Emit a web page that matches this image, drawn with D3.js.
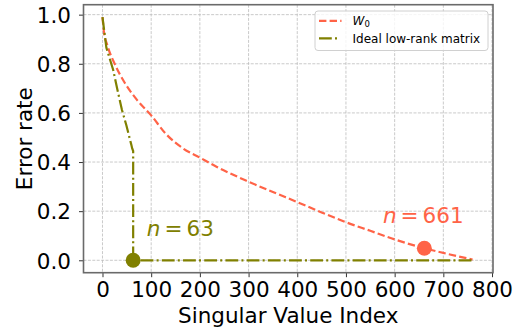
<!DOCTYPE html>
<html><head><meta charset="utf-8">
<script src="https://cdn.jsdelivr.net/npm/d3@7"></script>
<style>body{margin:0;background:#fff}svg{display:block;font-family:"DejaVu Sans",sans-serif}</style>
</head><body><svg id="c" width="517" height="331"></svg>
<script>
// data
const w0X = [0, 3, 10, 25, 45, 70, 100, 130, 165, 200, 235, 300, 350, 400, 450, 500, 550, 600, 661, 700, 760];
const w0Y = [0.99, 0.93, 0.875, 0.80, 0.725, 0.655, 0.59, 0.515, 0.456, 0.418, 0.38, 0.32, 0.278, 0.237, 0.195, 0.155, 0.12, 0.085, 0.049, 0.03, 0.003];
const idealX = [0, 8, 22, 30, 40, 49, 56, 59, 61, 63, 63, 760];
const idealY = [0.99, 0.865, 0.775, 0.70, 0.612, 0.55, 0.495, 0.472, 0.455, 0.445, 0, 0];
const xTicks = [0, 100, 200, 300, 400, 500, 600, 700, 800];
const yTicks = [0.0, 0.2, 0.4, 0.6, 0.8, 1.0];
const idealPoint = {x: 63, y: 0, label: "63"};
const w0Point = {x: 661, y: 0.049, label: "661"};
const legendLabels = ["W", "Ideal low-rank matrix"];

const svg = d3.select("#c");
const L = 83.5, R = 493, T = 4.7, B = 272.7;
const x = d3.scaleLinear().domain([-39, 802]).range([L, R]);
const y = d3.scaleLinear().domain([-0.0505, 1.0405]).range([B, T]);
const red = "#ff6347", olive = "#808000";
const FS = 21.5;

// grid
const g = svg.append("g");
xTicks.forEach(t => g.append("line").attr("x1", x(t)).attr("x2", x(t)).attr("y1", T).attr("y2", B)
  .attr("stroke", "#bdbdbd").attr("stroke-width", 0.8).attr("stroke-dasharray", "3,1.4"));
yTicks.forEach(t => g.append("line").attr("x1", L).attr("x2", R).attr("y1", y(t)).attr("y2", y(t))
  .attr("stroke", "#bdbdbd").attr("stroke-width", 0.8).attr("stroke-dasharray", "3,1.4"));

// lines
const w0 = w0X.map((v, i) => [v, w0Y[i]]);
const ideal = idealX.map((v, i) => [v, idealY[i]]);
svg.append("path").attr("d", d3.line().x(d => x(d[0])).y(d => y(d[1])).curve(d3.curveMonotoneX)(w0))
  .attr("fill", "none").attr("stroke", red).attr("stroke-width", 2.2).attr("stroke-dasharray", "7.4,3.2");
svg.append("path").attr("d", d3.line().x(d => x(d[0])).y(d => y(d[1]))(ideal))
  .attr("fill", "none").attr("stroke", olive).attr("stroke-width", 2.2).attr("stroke-dasharray", "12.8,3.2,2,3.2");

// markers
svg.append("circle").attr("cx", x(idealPoint.x)).attr("cy", y(idealPoint.y)).attr("r", 7.5).attr("fill", olive);
svg.append("circle").attr("cx", x(w0Point.x)).attr("cy", y(w0Point.y)).attr("r", 7.5).attr("fill", red);

// annotations
function ann(px, py, label, color) {
  const t = svg.append("text").attr("x", x(px)).attr("y", y(py)).attr("fill", color).attr("font-size", FS);
  t.append("tspan").attr("font-style", "italic").text("n");
  t.append("tspan").attr("dx", 4).text("=");
  t.append("tspan").attr("dx", 4).text(label);
}
ann(91, 0.099, idealPoint.label, olive);
ann(576, 0.15, w0Point.label, red);

// axes ticks
const ax = svg.append("g").attr("transform", `translate(0,${B})`)
  .call(d3.axisBottom(x).tickValues(xTicks).tickSize(4.5).tickPadding(4).tickFormat(d3.format("d")));
ax.select(".domain").remove();
ax.selectAll("text").attr("font-size", FS).attr("font-family", "DejaVu Sans").attr("fill", "#000").attr("dy", null).attr("y", 24.6);
ax.selectAll("line").attr("stroke", "#333").attr("stroke-width", 1);
const ay = svg.append("g").attr("transform", `translate(${L},0)`)
  .call(d3.axisLeft(y).tickValues(yTicks).tickSize(4.5).tickPadding(8).tickFormat(d3.format(".1f")));
ay.select(".domain").remove();
ay.selectAll("text").attr("font-size", FS).attr("font-family", "DejaVu Sans").attr("fill", "#000").attr("dy", "0.36em");
ay.selectAll("line").attr("stroke", "#333").attr("stroke-width", 1);

// spines
svg.append("rect").attr("x", L).attr("y", T).attr("width", R - L).attr("height", B - T)
  .attr("fill", "none").attr("stroke", "#6a6a6a").attr("stroke-width", 1.6);

// axis labels
svg.append("text").attr("x", (L + R) / 2).attr("y", 323.3).attr("text-anchor", "middle")
  .attr("font-size", FS).text("Singular Value Index");
svg.append("text").attr("transform", `translate(31.7,${(T + B) / 2}) rotate(-90)`).attr("text-anchor", "middle")
  .attr("font-size", FS).text("Error rate");

// legend
const lg = svg.append("g");
lg.append("rect").attr("x", 315).attr("y", 11).attr("width", 173).attr("height", 39.5).attr("rx", 3)
  .attr("fill", "#fff").attr("fill-opacity", 0.8).attr("stroke", "#d0d0d0").attr("stroke-width", 1);
lg.append("line").attr("x1", 319).attr("x2", 341.5).attr("y1", 20.8).attr("y2", 20.8)
  .attr("stroke", red).attr("stroke-width", 2.2).attr("stroke-dasharray", "7.4,3.2");
lg.append("line").attr("x1", 319).attr("x2", 341.5).attr("y1", 38.3).attr("y2", 38.3)
  .attr("stroke", olive).attr("stroke-width", 2.2).attr("stroke-dasharray", "12.8,3.2,2,8");
const l1 = lg.append("text").attr("x", 352.5).attr("y", 25.2).attr("font-size", 12);
l1.append("tspan").attr("font-style", "italic").text(legendLabels[0]);
l1.append("tspan").attr("font-size", 8.5).attr("dy", 2.2).text("0");
lg.append("text").attr("x", 352.5).attr("y", 42.6).attr("font-size", 12).text(legendLabels[1]);
</script></body></html>
